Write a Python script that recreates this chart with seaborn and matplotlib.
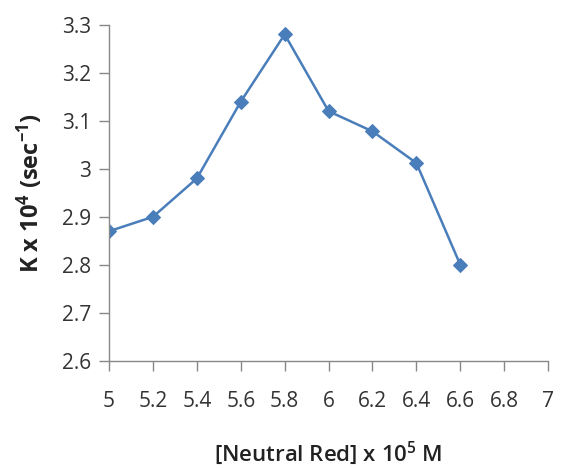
"""K vs concentración de Neutral Red."""
import matplotlib
matplotlib.use("Agg")
import matplotlib.pyplot as plt
import pandas as pd
import seaborn as sns

conc = [5.0, 5.2, 5.4, 5.6, 5.8, 6.0, 6.2, 6.4, 6.6]
k_val = [2.87, 2.90, 2.98, 3.14, 3.28, 3.12, 3.078, 3.012, 2.80]
x_ticks = [5, 5.2, 5.4, 5.6, 5.8, 6, 6.2, 6.4, 6.6, 6.8, 7]
y_ticks = [2.6, 2.7, 2.8, 2.9, 3, 3.1, 3.2, 3.3]

sns.set_style("white")
plt.rcParams["font.family"] = ["Open Sans", "DejaVu Sans"]
plt.rcParams["mathtext.default"] = "regular"

df = pd.DataFrame({"conc": conc, "k": k_val})

fig = plt.figure(figsize=(5.68, 4.68), dpi=100)
ax = fig.add_axes([0.192, 0.229, 0.773, 0.718])
sns.lineplot(data=df, x="conc", y="k", ax=ax, color="#4A7EBB",
             linewidth=1.8, marker="D", markersize=7,
             markeredgecolor="#4A7EBB")

ax.set_xlim(5, 7)
ax.set_ylim(2.6, 3.3)
ax.set_xticks(x_ticks)
ax.set_xticklabels([f"{t:g}" for t in x_ticks])
ax.set_yticks(y_ticks)
ax.set_yticklabels([f"{t:g}" for t in y_ticks])
for s in ["top", "right"]:
    ax.spines[s].set_visible(False)
for s in ["left", "bottom"]:
    ax.spines[s].set_color("#888888")
    ax.spines[s].set_linewidth(1)
ax.tick_params(axis="both", direction="out", length=7, width=1,
               bottom=True, left=True,
               color="#888888", labelsize=15, labelcolor="#333333")
ax.tick_params(axis="x", pad=15)
ax.tick_params(axis="y", pad=6)

ax.set_xlabel(r"[Neutral Red] x 10$^5$ M", fontsize=16, labelpad=20,
              fontweight="semibold", color="#222222")
ax.set_ylabel(r"K x 10$^4$ (sec$^{-1}$)", fontsize=17, fontweight="bold",
              labelpad=12, color="#222222")

fig.savefig("out.png", dpi=100)
